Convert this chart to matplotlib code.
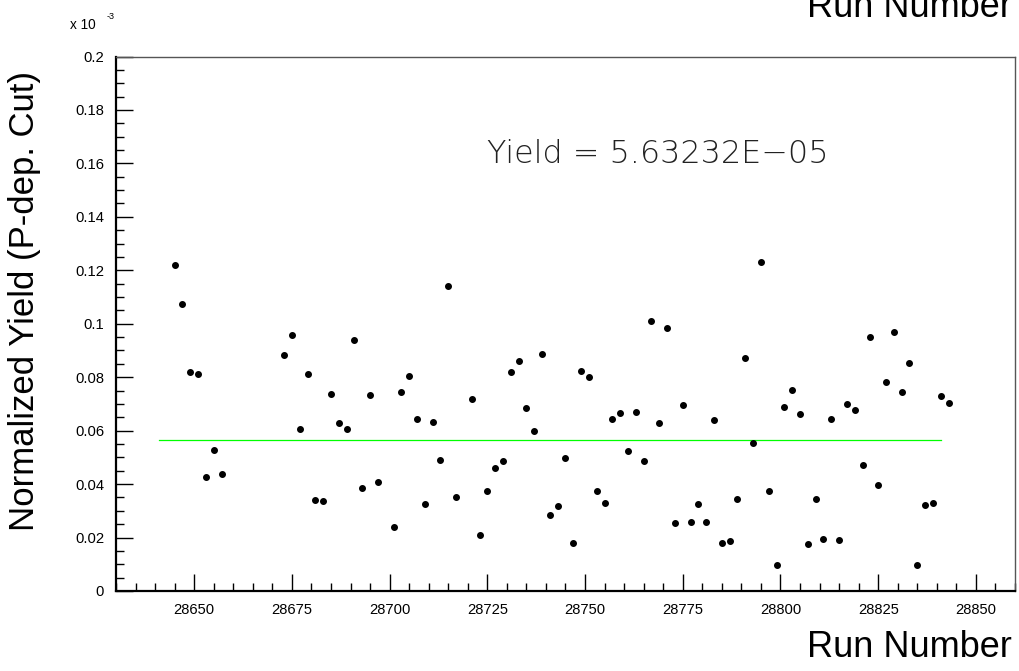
import matplotlib
matplotlib.use("Agg")
import matplotlib.pyplot as plt
from matplotlib.ticker import MultipleLocator, FixedLocator

# ---- data (yield in units of 1e-3) ----
runs = [28645, 28647, 28649, 28651, 28653, 28655, 28657,
        28673, 28675, 28677, 28679, 28681, 28683, 28685, 28687, 28689,
        28691, 28693, 28695, 28697,
        28701, 28703, 28705, 28707, 28709, 28711, 28713, 28715, 28717,
        28721, 28723, 28725, 28727, 28729, 28731, 28733, 28735, 28737, 28739,
        28741, 28743, 28745, 28747, 28749, 28751, 28753, 28755, 28757, 28759,
        28761, 28763, 28765, 28767, 28769, 28771, 28773, 28775, 28777, 28779,
        28781, 28783, 28785, 28787, 28789, 28791, 28793, 28795, 28797, 28799,
        28801, 28803, 28805, 28807, 28809, 28811, 28813, 28815, 28817, 28819,
        28821, 28823, 28825, 28827, 28829, 28831, 28833, 28835, 28837, 28839,
        28841, 28843]
yields = [0.1219, 0.1075, 0.0820, 0.0813, 0.0427, 0.0527, 0.0437,
          0.0883, 0.0958, 0.0605, 0.0813, 0.0342, 0.0335, 0.0737, 0.0630, 0.0607,
          0.0941, 0.0386, 0.0734, 0.0408,
          0.0240, 0.0743, 0.0803, 0.0645, 0.0325, 0.0633, 0.0492, 0.1140, 0.0351,
          0.0718, 0.0209, 0.0375, 0.0462, 0.0488, 0.0821, 0.0861, 0.0683, 0.0597, 0.0887,
          0.0284, 0.0319, 0.0497, 0.0180, 0.0822, 0.0801, 0.0375, 0.0330, 0.0643, 0.0666,
          0.0523, 0.0671, 0.0487, 0.1009, 0.0627, 0.0983, 0.0256, 0.0697, 0.0260, 0.0327,
          0.0260, 0.0638, 0.0181, 0.0186, 0.0345, 0.0871, 0.0552, 0.1230, 0.0375, 0.0097,
          0.0690, 0.0752, 0.0663, 0.0176, 0.0346, 0.0196, 0.0645, 0.0189, 0.0698, 0.0677,
          0.0470, 0.0952, 0.0398, 0.0781, 0.0971, 0.0745, 0.0852, 0.0097, 0.0323, 0.0330,
          0.0731, 0.0702]
mean_yield = 0.0563232          # 5.63232E-05 in units of 1e-3
mean_range = [28641, 28841]
x_ticks = [28650, 28675, 28700, 28725, 28750, 28775, 28800, 28825, 28850]
x_labels = ["28650", "28675", "28700", "28725", "28750", "28775", "28800", "28825", "28850"]
y_ticks = [0, 0.02, 0.04, 0.06, 0.08, 0.1, 0.12, 0.14, 0.16, 0.18, 0.2]
y_labels = ["0", "0.02", "0.04", "0.06", "0.08", "0.1", "0.12", "0.14", "0.16", "0.18", "0.2"]

W, H = 1019, 671
plt.rcParams['font.family'] = ['Liberation Sans', 'DejaVu Sans']
fig = plt.figure(figsize=(W / 100, H / 100), dpi=100)
ax = fig.add_axes([116 / W, 1 - 591 / H, (1015 - 116) / W, (591 - 56.5) / H])

ax.plot(runs, yields, 'o', color='black', ms=4, mec='black', zorder=3)
ax.plot(mean_range, [mean_yield, mean_yield], color='#00ff00', lw=0.9, zorder=2)

ax.set_xlim(28630, 28860)
ax.set_ylim(0, 0.2)
ax.xaxis.set_major_locator(FixedLocator(x_ticks))
ax.set_xticklabels(x_labels)
ax.xaxis.set_minor_locator(MultipleLocator(5))
ax.yaxis.set_major_locator(FixedLocator(y_ticks))
ax.set_yticklabels(y_labels)
ax.yaxis.set_minor_locator(MultipleLocator(0.005))

ax.tick_params(which='both', direction='in', top=False, right=False, colors='black',
               labelsize=10.6, width=1)
ax.tick_params(which='major', length=12, pad=8.5)
ax.tick_params(which='minor', length=6)

for s in ['left', 'bottom']:
    ax.spines[s].set_linewidth(1.6)
    ax.spines[s].set_color('black')
for s in ['top', 'right']:
    ax.spines[s].set_linewidth(1.0)
    ax.spines[s].set_color('#555555')

# texts
fig.text(25 / W, 1 - 301 / H, "Normalized Yield (P-dep. Cut)", rotation=90,
         ha='center', va='center', fontsize=25)
fig.text(1012 / W, 14.3 / H, "Run Number", ha='right', va='baseline', fontsize=26)
fig.text(1012 / W, 1 - 17 / H, "Run Number", ha='right', va='baseline', fontsize=26)
fig.text(70.5 / W, 1 - 29.3 / H, "x 10", ha='left', va='baseline', fontsize=9.8)
fig.text(107 / W, 1 - 19.3 / H, "-3", ha='left', va='baseline', fontsize=6.5)
fig.text(487 / W, 1 - 163.3 / H, "Yield = 5.63232E\u221205", ha='left', va='baseline',
         fontsize=22.9, family=['DejaVu Sans'], fontweight='light', color='#222222')

fig.savefig("out.png", dpi=100)
